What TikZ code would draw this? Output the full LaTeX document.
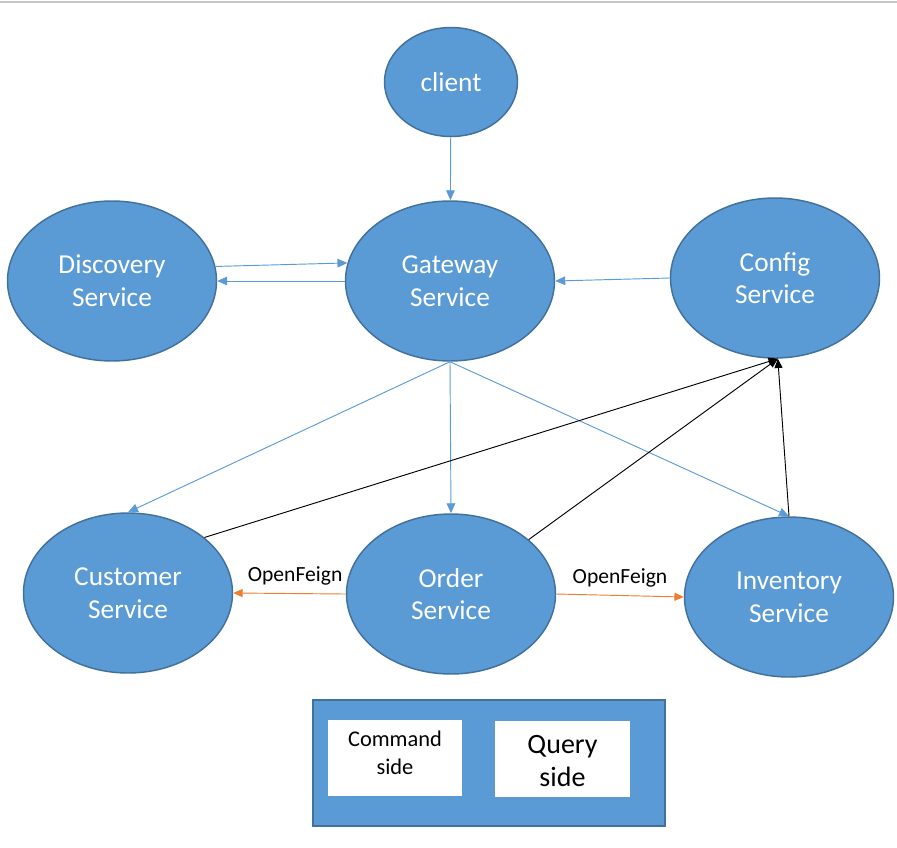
\documentclass[tikz,border=0pt]{standalone}
\usepackage{fontspec}
\setmainfont{Carlito}
\usetikzlibrary{shapes.geometric, arrows.meta}

\definecolor{svcblue}{HTML}{5B9BD5}
\definecolor{svcedge}{HTML}{41719C}
\definecolor{feign}{HTML}{ED7D31}

\begin{document}
\begin{tikzpicture}[
    x=0.75pt, y=-0.75pt,
    % Node styles
    service/.style={
        ellipse, draw=svcedge, line width=1.1pt, fill=svcblue,
        text=white, inner sep=0pt, align=center,
        minimum width=156.75pt, minimum height=120pt,
        font=\fontsize{20.5}{24.5}\selectfont
    },
    panel/.style={
        rectangle, draw=svcedge, line width=1.3pt, fill=svcblue,
        inner sep=0pt, minimum width=264pt, minimum height=94.5pt
    },
    side/.style={
        rectangle, fill=white, inner sep=0pt,
        minimum width=101pt, minimum height=57pt
    },
    sidetext/.style={align=center, inner sep=0pt},
    route/.style={-{Triangle[length=7.5pt, width=6.5pt]}, line width=0.7pt, svcblue},
    confarrow/.style={-{Triangle[length=7pt, width=6pt]}, line width=0.7pt, black},
    feignarrow/.style={-{Triangle[length=7pt, width=6pt]}, line width=0.7pt, feign},
    feignlabel/.style={font=\fontsize{16.2}{18}\selectfont, black, inner sep=1pt}
]
\useasboundingbox (0,0) rectangle (897,847);

% top rule of the page
\draw[black!22, line width=1.5pt] (0,2) -- (897,2);

% ============================================================
% Services
% ============================================================
\node[service, minimum width=99.75pt, minimum height=81.75pt] (client) at (451,82) {client};

\node[service] (discovery) at (112,281) {Discovery\\Service};
\node[service] (gateway)   at (450,281) {Gateway\\Service};
\node[service] (config)    at (775,278) {Config\\Service};

\node[service] (customer)  at (128,593) {Customer\\Service};
\node[service] (order)     at (451,594) {Order\\Service};
\node[service] (inventory) at (789,597) {Inventory\\Service};

% -- CQRS panel --
\node[panel] (cqrs) at (489,763) {};
\node[side] (command) at (395,758) {};
\node[side] (query) at (562.5,758.5) {};
\node[sidetext, font=\fontsize{16.8}{20.5}\selectfont] (commandtext)
    at ([yshift=4pt]command.center) {Command\\side};
\node[sidetext, font=\fontsize{21}{25}\selectfont] (querytext)
    at ([yshift=-1.8pt]query.center) {Query\\side};

% ============================================================
% Arrows
% ============================================================

% client -> gateway
\draw[route] (client) -- (gateway);

% discovery <-> gateway
\draw[route] (discovery.8) -- (gateway.170);
\draw[route] (gateway.west) -- (discovery.east);

% config -> gateway
\draw[route] (config.west) -- (gateway.east);

% gateway routes
\draw[route] (gateway.south) -- (customer.north);
\draw[route] (gateway.south) -- (order.north);
\draw[route] (gateway.south) -- (inventory.north);

% config clients
\draw[confarrow] (customer.36) -- (config.-88);
\draw[confarrow] (order.35) -- (config.-88);
\draw[confarrow] (inventory.north) -- (config.-88);

% feign calls
\draw[feignarrow] (order.west) -- node[feignlabel, above=5pt, pos=0.45] {OpenFeign} (customer.east);
\draw[feignarrow] (order.east) -- node[feignlabel, above=5pt] {OpenFeign} (inventory.west);

\end{tikzpicture}
\end{document}
